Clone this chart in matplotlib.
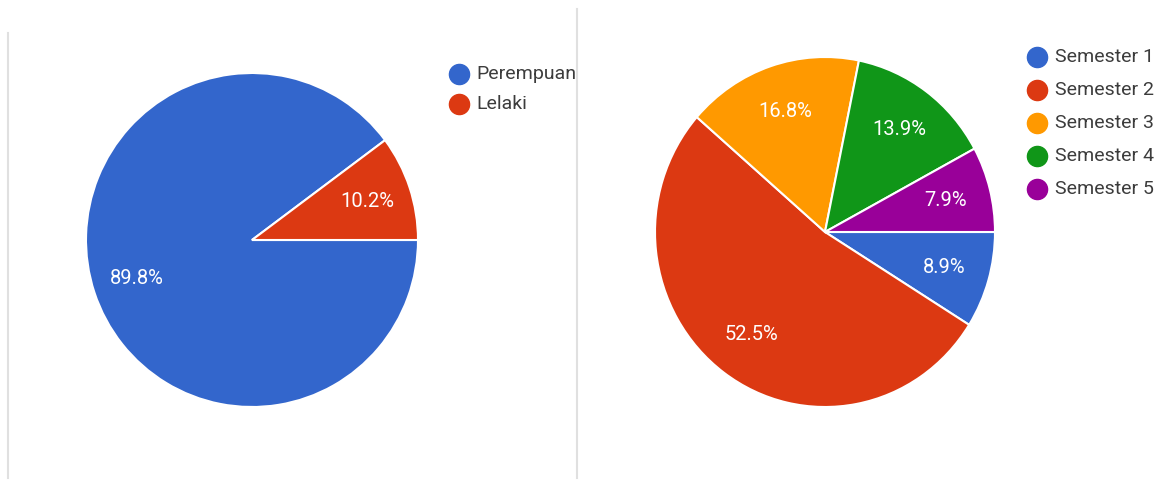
import matplotlib
matplotlib.use("Agg")
import matplotlib.pyplot as plt
from matplotlib.lines import Line2D

W, H = 1161, 480

gender_labels = ["Perempuan", "Lelaki"]
gender_values = [89.8, 10.2]
gender_colors = ["#3366CC", "#DC3912"]

sem_labels = ["Semester 1", "Semester 2", "Semester 3", "Semester 4", "Semester 5"]
sem_values = [8.9, 52.5, 16.8, 13.9, 7.9]
sem_colors = ["#3366CC", "#DC3912", "#FF9900", "#109618", "#990099"]

plt.rcParams['font.family'] = ['Roboto', 'DejaVu Sans']

fig = plt.figure(figsize=(W / 100, H / 100), dpi=100)
fig.patch.set_facecolor("white")


def px_axes(cx, cy, rx, ry):
    return fig.add_axes([(cx - rx) / W, (H - cy - ry) / H, 2 * rx / W, 2 * ry / H])


def draw_pie(ax, values, colors):
    wedges, texts = ax.pie(
        values, colors=colors, startangle=0, counterclock=False,
        labels=[f"{v:.1f}%" for v in values], labeldistance=0.73,
        wedgeprops=dict(edgecolor="white", linewidth=1.5),
        textprops=dict(color="white", fontsize=14.5, ha="center", va="center"),
        frame=False)
    ax.set_aspect("auto")
    ax.set_xlim(-1, 1)
    ax.set_ylim(-1, 1)
    ax.axis("off")


ax1 = px_axes(252, 240, 166, 167)
draw_pie(ax1, gender_values, gender_colors)

ax2 = px_axes(825, 232, 170, 175)
draw_pie(ax2, sem_values, sem_colors)


def draw_legend(x_marker, x_text, y0, dy, labels, colors):
    for i, (lab, col) in enumerate(zip(labels, colors)):
        y = (H - (y0 + i * dy)) / H
        fig.add_artist(Line2D([x_marker / W], [y], marker="o", markersize=14.5,
                              color=col, linestyle="none", transform=fig.transFigure))
        fig.text(x_text / W, y, lab, va="center", ha="left", fontsize=14,
                 color="#3c3c3c")


draw_legend(459, 476, 74, 30, gender_labels, gender_colors)
draw_legend(1037, 1055, 57, 33, sem_labels, sem_colors)

# panel borders
border = "#e0e0e0"
fig.add_artist(Line2D([8 / W, 8 / W], [(H - 33) / H, (H - 478) / H], color=border,
                      linewidth=1.5, transform=fig.transFigure))
fig.add_artist(Line2D([577 / W, 577 / W], [(H - 9) / H, (H - 478) / H], color=border,
                      linewidth=1.5, transform=fig.transFigure))

fig.savefig("out.png", dpi=100, facecolor="white")
